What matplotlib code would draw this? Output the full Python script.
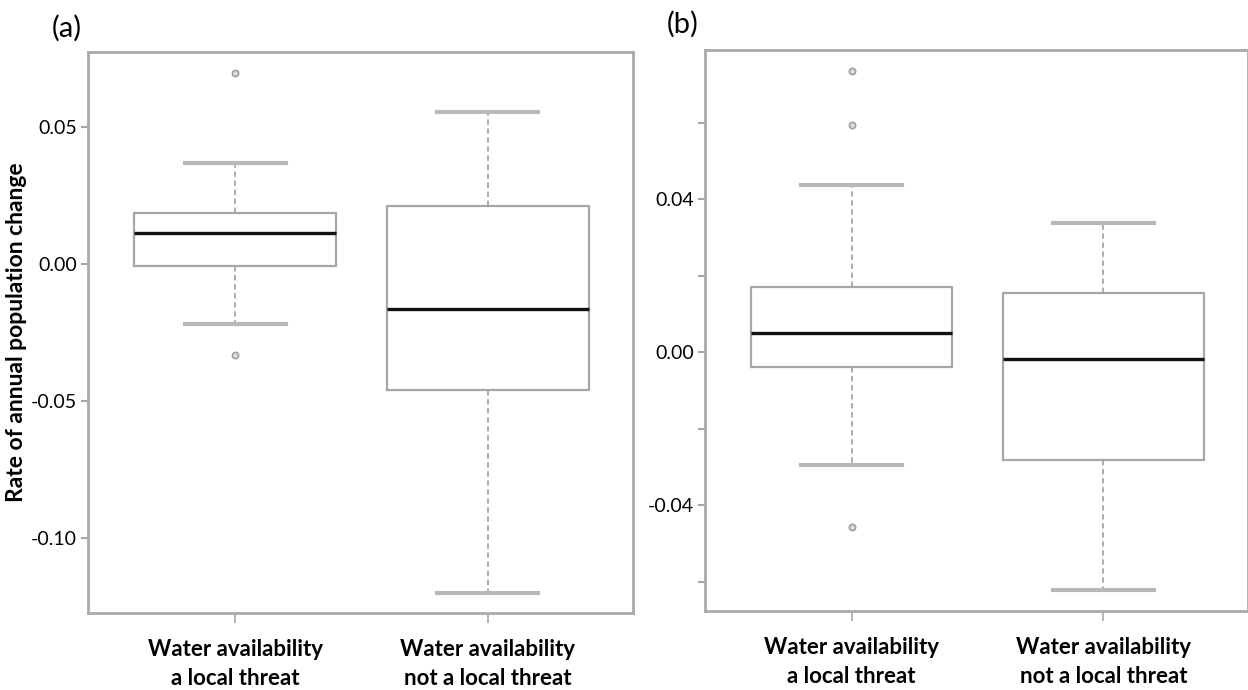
import matplotlib
matplotlib.use("Agg")
import matplotlib.pyplot as plt

plt.rcParams['font.family'] = ['Lato', 'DejaVu Sans']

categories = ["Water availability\na local threat", "Water availability\nnot a local threat"]

# Panel (a) statistics: [lower whisker, Q1, median, Q3, upper whisker]
a_lo = [-0.0219, -0.1201]
a_q1 = [-0.0007, -0.0460]
a_med = [0.0113, -0.0164]
a_q3 = [0.0186, 0.0212]
a_hi = [0.0369, 0.0555]
a_out = [[0.0697, -0.0332], []]

# Panel (b) statistics
b_lo = [-0.0295, -0.0622]
b_q1 = [-0.0039, -0.0282]
b_med = [0.0050, -0.0018]
b_q3 = [0.0170, 0.0154]
b_hi = [0.0437, 0.0337]
b_out = [[0.0735, 0.0593, -0.0458], []]

a_ticks = [0.05, 0.00, -0.05, -0.10]
a_ticklabels = ["0.05", "0.00", "-0.05", "-0.10"]
b_ticks = [0.06, 0.04, 0.02, 0.00, -0.02, -0.04, -0.06]
b_ticklabels = ["", "0.04", "", "0.00", "", "-0.04", ""]

GRAY = "#a6a6a6"

fig = plt.figure(figsize=(12.48, 6.9), dpi=100)
axa = fig.add_axes([88/1248, 77/690, 545/1248, 561/690])
axb = fig.add_axes([705/1248, 79/690, 543/1248, 561/690])


def draw(ax, lo, q1, med, q3, hi, out, ylim, ticks, ticklabels):
    stats = []
    for i in range(len(lo)):
        stats.append(dict(whislo=lo[i], q1=q1[i], med=med[i], q3=q3[i],
                          whishi=hi[i], fliers=out[i]))
    ax.bxp(stats, positions=[1, 2], widths=0.8, showfliers=True,
           boxprops=dict(color=GRAY, linewidth=1.6),
           medianprops=dict(color="#111111", linewidth=2.4),
           whiskerprops=dict(color=GRAY, linewidth=1.3, linestyle=(0, (3, 2))),
           capprops=dict(color="#b8b8b8", linewidth=3.0),
           capwidths=0.4,
           flierprops=dict(marker="o", markersize=4.5, markerfacecolor="#dddddd",
                           markeredgecolor="#a0a0a0", markeredgewidth=1.2))
    ax.set_xlim(0.418, 2.575)
    ax.set_ylim(*ylim)
    ax.set_yticks(ticks)
    ax.set_yticklabels(ticklabels, fontsize=14)
    ax.set_xticks([1, 2])
    ax.set_xticklabels(categories, fontsize=16, fontweight="bold", linespacing=1.42)
    for s in ax.spines.values():
        s.set_color("#aaaaaa")
        s.set_linewidth(2.0)
    ax.tick_params(axis="y", colors=GRAY, labelcolor="black", length=5, width=1.5, pad=3)
    ax.tick_params(axis="x", colors=GRAY, labelcolor="black", length=7, width=1.2, pad=12)


draw(axa, a_lo, a_q1, a_med, a_q3, a_hi, a_out, (-0.1274, 0.0774), a_ticks, a_ticklabels)
draw(axb, b_lo, b_q1, b_med, b_q3, b_hi, b_out, (-0.0677, 0.0790), b_ticks, b_ticklabels)

axa.set_ylabel("Rate of annual population change", fontsize=16.5, fontweight="bold")
axa.yaxis.set_label_coords(-0.112, 0.5)

fig.text(52/1248, 1 - 28/690, "(a)", fontsize=21, va="center", ha="left")
fig.text(667/1248, 1 - 24/690, "(b)", fontsize=21, va="center", ha="left")

fig.savefig("out.png", dpi=100, facecolor="white")
